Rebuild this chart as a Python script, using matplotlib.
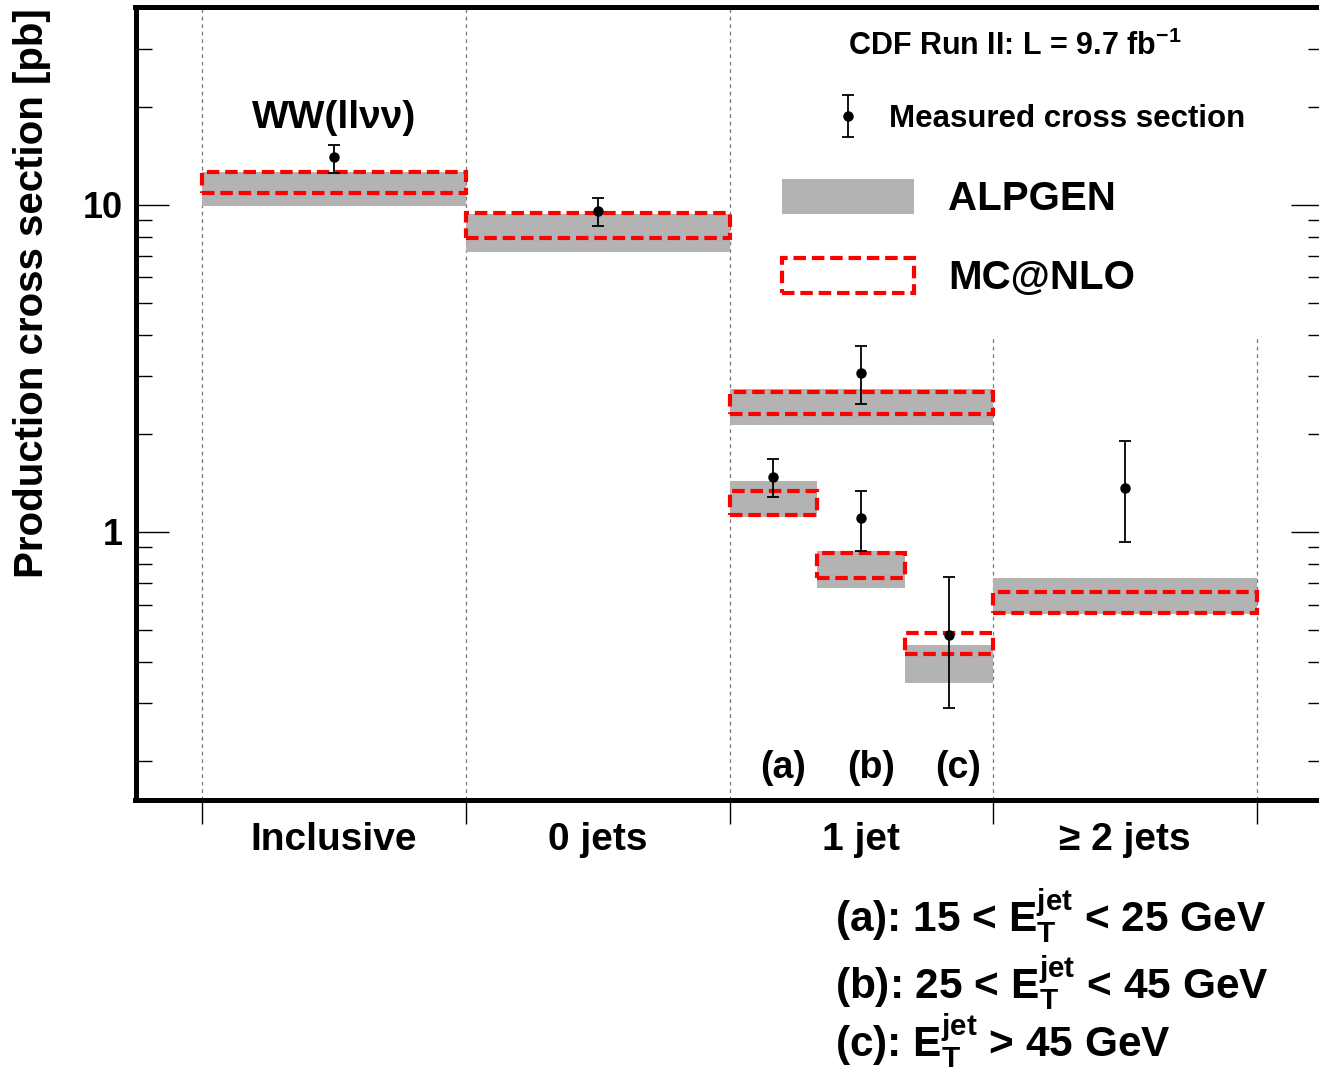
import numpy as np
import matplotlib
matplotlib.use('Agg')
import matplotlib.pyplot as plt
from matplotlib.legend_handler import HandlerErrorbar

plt.rcParams['font.family'] = ['Liberation Sans', 'DejaVu Sans']
plt.rcParams['font.weight'] = 'bold'
plt.rcParams['mathtext.fontset'] = 'custom'
plt.rcParams['mathtext.rm'] = 'Liberation Sans:bold'
plt.rcParams['mathtext.bf'] = 'Liberation Sans:bold'

# categories (main bins) and the three 1-jet sub bins
categories = ['Inclusive', '0 jets', '1 jet', '\u2265 2 jets']
sub_labels = ['(a)', '(b)', '(c)']

# bin edges for each measurement: Inclusive, 0 jets, 1 jet, (a), (b), (c), >=2 jets
bin_lo = [0.0, 1.0, 2.0, 2.0, 2.0 + 1 / 3, 2.0 + 2 / 3, 3.0]
bin_hi = [1.0, 2.0, 3.0, 2.0 + 1 / 3, 2.0 + 2 / 3, 3.0, 4.0]

# measured cross section [pb] and its error band
meas = [14.0, 9.6, 3.06, 1.47, 1.10, 0.484, 1.36]
meas_up = [15.3, 10.5, 3.71, 1.67, 1.33, 0.729, 1.90]
meas_dn = [12.5, 8.62, 2.46, 1.28, 0.875, 0.290, 0.932]

# ALPGEN prediction band
alp_lo = [9.9, 7.18, 2.12, 1.11, 0.674, 0.345, 0.561]
alp_hi = [12.6, 9.40, 2.74, 1.43, 0.875, 0.451, 0.723]

# MC@NLO prediction band
mc_lo = [10.9, 7.93, 2.30, 1.13, 0.723, 0.424, 0.565]
mc_hi = [12.6, 9.45, 2.68, 1.33, 0.863, 0.491, 0.656]

bin_lo = np.array(bin_lo)
bin_hi = np.array(bin_hi)
xc = (bin_lo + bin_hi) / 2
wid = bin_hi - bin_lo
meas = np.array(meas)
meas_up = np.array(meas_up)
meas_dn = np.array(meas_dn)
alp_lo = np.array(alp_lo)
alp_hi = np.array(alp_hi)
mc_lo = np.array(mc_lo)
mc_hi = np.array(mc_hi)

fig = plt.figure(figsize=(13.19, 10.70), dpi=100)
ax = fig.add_axes([135.5 / 1319, 270 / 1070, 1188 / 1319, 793 / 1070])
ax.set_yscale('log')
ax.set_xlim(-0.252, 4.252)
ax.set_ylim(0.1515, 40.3)

# dashed separators
for xv in [0, 1, 2]:
    ax.axvline(xv, 0, 1, color='#777777', lw=0.9, ls=(0, (3, 3)), zorder=1)
for xv in [3, 4]:
    ax.axvline(xv, 0, 0.586, color='#777777', lw=0.9, ls=(0, (3, 3)), zorder=1)

gray = ax.bar(xc, alp_hi - alp_lo, bottom=alp_lo, width=wid, color='#b3b3b3',
              lw=0, zorder=2, label='ALPGEN')
red = ax.bar(xc, mc_hi - mc_lo, bottom=mc_lo, width=wid, fill=False,
             edgecolor='#ff0000', lw=3, ls=(0, (3, 1.4)), zorder=3, label='MC@NLO')
eb = ax.errorbar(xc, meas, yerr=[meas - meas_dn, meas_up - meas], fmt='o', color='black',
                 ms=6.5, lw=1.3, capsize=4.5, capthick=1.3, zorder=4,
                 label='Measured cross section')

# legend: measured point on its own row, MC bands below
leg1 = ax.legend(handles=[eb], loc='center left',
                 bbox_to_anchor=((832.5 - 135.5) / 1188, (800 - 119) / 793),
                 frameon=False, fontsize=22.5, borderpad=0, borderaxespad=0,
                 handlelength=1.0, handletextpad=0.82,
                 handler_map={eb: HandlerErrorbar(yerr_size=0.66)})
ax.add_artist(leg1)
leg2 = ax.legend(handles=[gray, red], loc='center left',
                 bbox_to_anchor=((782 - 135.5) / 1188, (800 - 238) / 793),
                 frameon=False, fontsize=29, borderpad=0, borderaxespad=0,
                 handlelength=3.28, handleheight=0.95, handletextpad=0.84,
                 labelspacing=0.99)

ax.text((848 - 135.5) / 1188, (800 - 55) / 793, r'CDF Run II: L = 9.7 fb$^{-1}$',
        transform=ax.transAxes, fontsize=22, va='baseline', ha='left')
ax.text(0.5, (800 - 128) / 793, 'WW(ll\u03bd\u03bd)', transform=ax.get_xaxis_transform(),
        fontsize=28, ha='center', va='baseline')
for i, lab in enumerate(sub_labels):
    ax.text(xc[3 + i] + 0.035, (800 - 778) / 793, lab, transform=ax.get_xaxis_transform(),
            fontsize=27, fontweight='bold', ha='center', va='baseline')

# y axis
ax.set_yticks([1, 10])
ax.set_yticklabels(['1', '10'])
minors = [0.2, 0.3, 0.4, 0.5, 0.6, 0.7, 0.8, 0.9, 2, 3, 4, 5, 6, 7, 8, 9, 20, 30]
ax.set_yticks(minors, minor=True)
ax.set_yticklabels([], minor=True)
ax.tick_params(axis='y', which='both', direction='in', left=True, right=True, width=1)
ax.tick_params(axis='y', which='major', length=24, labelsize=26, pad=9)
ax.tick_params(axis='y', which='minor', length=11.5)

# x axis
ax.set_xticks([0, 1, 2, 3, 4])
ax.set_xticklabels([])
ax.set_xticks([0.5, 1.5, 2.5, 3.5], minor=True)
ax.set_xticklabels(categories, minor=True)
ax.tick_params(axis='x', which='major', direction='out', length=17, width=1)
ax.tick_params(axis='x', which='minor', length=0, pad=16, labelsize=28)

for s in ax.spines.values():
    s.set_linewidth(3.6)

fig.text(32 / 1319, 1 - 8 / 1070, 'Production cross section [pb]', rotation=90,
         va='top', ha='center', fontsize=29)

notes = [r'(a): 15 < E$_{\rm T}^{\rm jet}$ < 25 GeV',
         r'(b): 25 < E$_{\rm T}^{\rm jet}$ < 45 GeV',
         r'(c): E$_{\rm T}^{\rm jet}$ > 45 GeV']
for yb, t in zip([932, 999, 1057], notes):
    fig.text(835 / 1319, 1 - yb / 1070, t, fontsize=30.5, va='baseline', ha='left')

fig.savefig('out.png', dpi=100)
